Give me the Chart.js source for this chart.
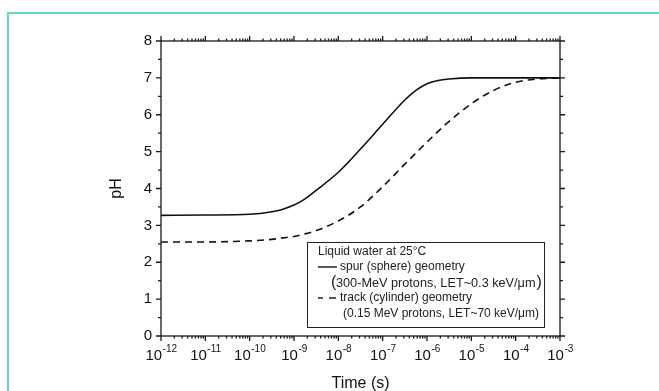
<!DOCTYPE html>
<html>
<head>
<meta charset="utf-8">
<script src="https://cdn.jsdelivr.net/npm/chart.js@4.4.1/dist/chart.umd.min.js"></script>
<style>
  body { margin: 0; background: #fff; }
</style>
</head>
<body>
<canvas id="ph" width="659" height="391"></canvas>
<script>
// time points (s)
var times = [1e-12, 1e-11, 1e-10, 3.16e-10, 5.62e-10, 1e-9, 1.78e-9, 3.16e-9, 1e-8, 3.16e-8, 1e-7, 3.16e-7, 5.62e-7, 1e-6, 1.78e-6, 3.16e-6, 1e-5, 3.16e-5, 1e-4, 3.16e-4, 1e-3];
// spur (sphere) geometry, 300-MeV protons
var spurPH = [3.27, 3.28, 3.30, 3.37, 3.44, 3.55, 3.72, 3.95, 4.44, 5.07, 5.74, 6.40, 6.66, 6.84, 6.93, 6.97, 7.0, 7.0, 7.0, 7.0, 7.0];
// track (cylinder) geometry, 0.15 MeV protons
var trackPH = [2.55, 2.55, 2.58, 2.62, 2.66, 2.70, 2.77, 2.86, 3.12, 3.50, 4.05, 4.66, 4.96, 5.26, 5.55, 5.82, 6.30, 6.66, 6.88, 6.97, 7.0];

var xDecades = [-12, -11, -10, -9, -8, -7, -6, -5, -4, -3];
var yTicks = [0, 1, 2, 3, 4, 5, 6, 7, 8];

function pts(ys) {
  return times.map(function (t, i) { return { x: t, y: ys[i] }; });
}

var FONT = '"Liberation Sans", Arial, sans-serif';

// teal page border, axis frame, tick marks, x labels with superscripts, legend box
var decor = {
  id: 'decor',
  beforeDraw: function (chart) {
    var ctx = chart.ctx;
    ctx.save();
    ctx.fillStyle = '#fff';
    ctx.fillRect(0, 0, chart.width, chart.height);
    ctx.strokeStyle = '#66d6c4';
    ctx.lineWidth = 2;
    ctx.beginPath();
    ctx.moveTo(8, chart.height + 2);
    ctx.lineTo(8, 13);
    ctx.lineTo(chart.width + 2, 13);
    ctx.stroke();
    ctx.restore();
  },
  afterDraw: function (chart) {
    var ctx = chart.ctx, a = chart.chartArea;
    var xs = chart.scales.x, ys = chart.scales.y;
    ctx.save();
    ctx.strokeStyle = '#1a1a1a';
    ctx.lineWidth = 1.3;
    ctx.strokeRect(a.left, a.top, a.right - a.left, a.bottom - a.top);

    ctx.beginPath();
    // x ticks, top and bottom, outward
    xDecades.forEach(function (e, i) {
      var px = xs.getPixelForValue(Math.pow(10, e));
      ctx.moveTo(px, a.bottom); ctx.lineTo(px, a.bottom + 5);
      ctx.moveTo(px, a.top); ctx.lineTo(px, a.top - 5);
      if (i < xDecades.length - 1) {
        for (var k = 2; k <= 9; k++) {
          var mx = xs.getPixelForValue(k * Math.pow(10, e));
          ctx.moveTo(mx, a.bottom); ctx.lineTo(mx, a.bottom + 2.5);
          ctx.moveTo(mx, a.top); ctx.lineTo(mx, a.top - 2.5);
        }
      }
    });
    // y ticks, left and right, outward
    yTicks.forEach(function (v, i) {
      var py = ys.getPixelForValue(v);
      ctx.moveTo(a.left, py); ctx.lineTo(a.left - 5, py);
      ctx.moveTo(a.right, py); ctx.lineTo(a.right + 5, py);
      if (i < yTicks.length - 1) {
        var my = ys.getPixelForValue(v + 0.5);
        ctx.moveTo(a.left, my); ctx.lineTo(a.left - 3, my);
        ctx.moveTo(a.right, my); ctx.lineTo(a.right + 3, my);
      }
    });
    ctx.stroke();

    // x tick labels 10^n
    ctx.fillStyle = '#111';
    ctx.textBaseline = 'alphabetic';
    xDecades.forEach(function (e) {
      var px = xs.getPixelForValue(Math.pow(10, e));
      ctx.font = '15px ' + FONT;
      var w1 = ctx.measureText('10').width;
      ctx.font = '10px ' + FONT;
      var sup = String(e);
      var w2 = ctx.measureText(sup).width;
      var x0 = px - (w1 + w2) / 2;
      ctx.font = '15px ' + FONT;
      ctx.textAlign = 'left';
      ctx.fillText('10', x0, a.bottom + 24);
      ctx.font = '10px ' + FONT;
      ctx.fillText(sup, x0 + w1 + 0.5, a.bottom + 16);
    });

    // legend box
    var bx = a.left + 146, by = a.top + 201, bw = 237, bh = 85;
    ctx.lineWidth = 1;
    ctx.strokeStyle = '#222';
    ctx.strokeRect(bx + 0.5, by + 0.5, bw, bh);
    ctx.font = '12px ' + FONT;
    ctx.textBaseline = 'middle';
    ctx.textAlign = 'left';
    ctx.fillStyle = '#222';
    ctx.fillText('Liquid water at 25\u00b0C', bx + 11, by + 10);
    ctx.lineWidth = 1.5;
    ctx.beginPath();
    ctx.moveTo(bx + 11, by + 25); ctx.lineTo(bx + 30, by + 25);
    ctx.stroke();
    ctx.fillText('spur (sphere) geometry', bx + 33, by + 25);
    ctx.font = '16px ' + FONT;
    ctx.fillText('(', bx + 24, by + 41);
    var mid = '300-MeV protons, LET~0.3 keV/\u03bcm';
    ctx.font = '12.7px ' + FONT;
    ctx.fillText(mid, bx + 29, by + 41);
    var wm = ctx.measureText(mid).width;
    ctx.font = '16px ' + FONT;
    ctx.fillText(')', bx + 29 + wm + 1, by + 41);
    ctx.font = '12px ' + FONT;
    ctx.beginPath();
    ctx.moveTo(bx + 11, by + 56); ctx.lineTo(bx + 16, by + 56);
    ctx.moveTo(bx + 22, by + 56); ctx.lineTo(bx + 29, by + 56);
    ctx.stroke();
    ctx.fillText('track (cylinder) geometry', bx + 33, by + 56);
    ctx.fillText('(0.15 MeV protons, LET~70 keV/\u03bcm)', bx + 36, by + 72);
    ctx.restore();
  }
};

new Chart(document.getElementById('ph'), {
  type: 'line',
  data: {
    datasets: [{
      label: 'spur (sphere) geometry',
      data: pts(spurPH),
      borderColor: '#111',
      borderWidth: 1.6,
      pointRadius: 0,
      cubicInterpolationMode: 'monotone',
      fill: false
    }, {
      label: 'track (cylinder) geometry',
      data: pts(trackPH),
      borderColor: '#111',
      borderWidth: 1.6,
      borderDash: [7, 5],
      pointRadius: 0,
      cubicInterpolationMode: 'monotone',
      fill: false
    }]
  },
  options: {
    responsive: false,
    animation: false,
    devicePixelRatio: 1,
    layout: { padding: { top: 41, right: 99, left: 0, bottom: 0 } },
    plugins: { legend: { display: false }, tooltip: { enabled: false } },
    scales: {
      x: {
        type: 'logarithmic',
        min: 1e-12,
        max: 1e-3,
        grid: { display: false, drawTicks: false },
        border: { display: false },
        ticks: { display: false },
        title: {
          display: true,
          text: 'Time (s)',
          color: '#111',
          font: { family: FONT, size: 16 },
          padding: { top: 0, bottom: -2 }
        },
        afterFit: function (s) { s.height = 55; }
      },
      y: {
        min: 0,
        max: 8,
        afterBuildTicks: function (s) {
          s.ticks = yTicks.map(function (v) { return { value: v }; });
        },
        grid: { display: false, drawTicks: false },
        border: { display: false },
        ticks: {
          color: '#111',
          padding: 9,
          font: { family: FONT, size: 15 }
        },
        title: {
          display: true,
          text: 'pH',
          color: '#111',
          font: { family: FONT, size: 16 },
          padding: { top: 107, bottom: 0 }
        },
        afterFit: function (s) { s.width = 161; }
      }
    }
  },
  plugins: [decor]
});
</script>
</body>
</html>
